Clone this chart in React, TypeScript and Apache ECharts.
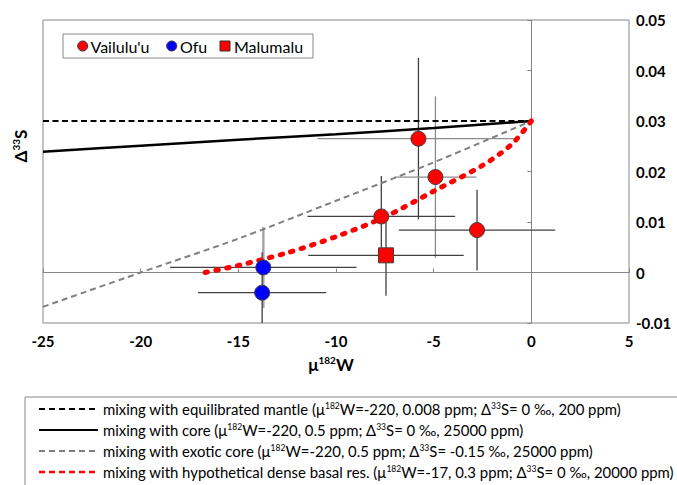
import React, { useEffect, useRef } from "react";
import * as echarts from "echarts";

// ---- data ----
const vailuluX = [-5.78, -4.91, -7.68, -2.78];
const vailuluY = [0.0265, 0.0189, 0.0111, 0.0084];
const vailuluXErr = [5.17, 2.1, 3.78, 4.0];
const vailuluYErr = [0.016, 0.016, 0.008, 0.008];

const ofuX = [-13.72, -13.78];
const ofuY = [0.001, -0.004];
const ofuXErr = [4.77, 3.28];
const ofuYErr = [0.008, 0.008];

const malumaluX = [-7.44];
const malumaluY = [0.0034];
const malumaluXErr = [3.98];
const malumaluYErr = [0.008];

const mantleX = [-25, 0];
const mantleY = [0.03, 0.03];
const coreX = [-25, -20, -15, -10, -5, 0];
const coreY = [0.0239, 0.0251, 0.0263, 0.0274, 0.0286, 0.03];
const exoticX = [-25, -20, -15, -10, -5, 0];
const exoticY = [-0.0068, 0, 0.0067, 0.0142, 0.0218, 0.03];
const basalX = [-16.7, -15, -12.5, -10, -7.5, -5, -2.5, -1, 0];
const basalY = [0, 0.0014, 0.0039, 0.0071, 0.011, 0.0161, 0.0212, 0.0254, 0.03];

const xMin = -25, xMax = 5, xStep = 5;
const yMin = -0.01, yMax = 0.05, yStep = 0.01;

const legendTop = ["Vailulu'u", "Ofu", "Malumalu"];
const legendBottom = [
  "mixing with equilibrated mantle (μ{s|182}W=-220, 0.008 ppm; Δ{s|33}S= 0 ‰, 200 ppm)",
  "mixing with core (μ{s|182}W=-220, 0.5 ppm; Δ{s|33}S= 0 ‰, 25000 ppm)",
  "mixing with exotic core (μ{s|182}W=-220, 0.5 ppm; Δ{s|33}S= -0.15 ‰, 25000 ppm)",
  "mixing with hypothetical dense basal res. (μ{s|182}W=-17, 0.3 ppm; Δ{s|33}S= 0 ‰, 20000 ppm)",
];

// ---- styles ----
const FONT = "Lato, 'Noto Sans', sans-serif";
const vailuluBarColors = [
  ["#8c8c8c", "#404040"],
  ["#8c8c8c", "#8c8c8c"],
  ["#404040", "#404040"],
  ["#404040", "#404040"],
];
const ofuBarColors = [
  ["#404040", "#a6a6a6"],
  ["#404040", "#404040"],
];
const malumaluBarColors = [["#404040", "#404040"]];

const zip = (...arrs: number[][]) => arrs[0].map((_, i) => arrs.map((a) => a[i]));

function errorSeries(data: number[][], colors: string[][]) {
  return {
    type: "custom",
    z: 1,
    clip: true,
    silent: true,
    data,
    renderItem: (params: any, api: any) => {
      const x = api.value(0), y = api.value(1), ex = api.value(2), ey = api.value(3);
      const l = api.coord([x - ex, y]);
      const r = api.coord([x + ex, y]);
      const t = api.coord([x, y + ey]);
      const b = api.coord([x, y - ey]);
      const c = colors[params.dataIndex];
      const vw = c[1] === "#a6a6a6" ? 2.5 : 1.3;
      return {
        type: "group",
        children: [
          { type: "line", shape: { x1: l[0], y1: l[1], x2: r[0], y2: r[1] }, style: { stroke: c[0], lineWidth: 1.3 } },
          { type: "line", shape: { x1: t[0], y1: t[1], x2: b[0], y2: b[1] }, style: { stroke: c[1], lineWidth: vw } },
        ],
      };
    },
  };
}

const supRich = (size: number, weight: string) => ({
  s: { fontSize: size, fontFamily: FONT, fontWeight: weight, fill: "#000", padding: [0, 0, Math.round(size * 0.8), 0] },
});

export default function App() {
  const ref = useRef<HTMLDivElement>(null);
  useEffect(() => {
    if (!ref.current) return;
    const chart = echarts.init(ref.current, null, { renderer: "svg" });
    const axisLabelFont = { fontFamily: FONT, fontWeight: "bold", fontSize: 15, color: "#000" };
    const gridLeft = 43, gridTop = 20, gridW = 586, gridH = 303;

    const bottomRows = [409, 430, 451, 472];
    const sampleStyles = [
      { stroke: "#000", lineWidth: 2, lineDash: [6, 4] },
      { stroke: "#000", lineWidth: 2 },
      { stroke: "#808080", lineWidth: 2, lineDash: [6, 4] },
      { stroke: "#ff0000", lineWidth: 2.5, lineDash: [6, 4] },
    ];

    const graphics: any[] = [
      {
        type: "text", x: 20, y: 146, rotation: Math.PI / 2, z: 10,
        style: {
          text: "Δ{s|33}S", align: "center", verticalAlign: "middle",
          fontFamily: FONT, fontWeight: "bold", fontSize: 17, fill: "#000", rich: supRich(10, "bold"),
        },
      },
      {
        type: "text", x: 331, y: 364, z: 10,
        style: {
          text: "μ{s|182}W", align: "center", verticalAlign: "middle",
          fontFamily: FONT, fontWeight: "bold", fontSize: 17, fill: "#000", rich: supRich(10, "bold"),
        },
      },
      { type: "rect", z: 10, shape: { x: 63, y: 34, width: 250, height: 24 }, style: { fill: "#fff", stroke: "#888", lineWidth: 1 } },
      { type: "circle", z: 11, shape: { cx: 82.7, cy: 46, r: 5 }, style: { fill: "#ff0000", stroke: "#333", lineWidth: 1 } },
      { type: "text", z: 11, x: 90.5, y: 46, style: { text: legendTop[0], fontFamily: FONT, fontSize: 16, fill: "#000", verticalAlign: "middle" } },
      { type: "circle", z: 11, shape: { cx: 171.7, cy: 46, r: 5 }, style: { fill: "#0000ff", stroke: "#333", lineWidth: 1 } },
      { type: "text", z: 11, x: 180, y: 46, style: { text: legendTop[1], fontFamily: FONT, fontSize: 16, fill: "#000", verticalAlign: "middle" } },
      { type: "rect", z: 11, shape: { x: 220, y: 41, width: 10, height: 10 }, style: { fill: "#ff0000", stroke: "#333", lineWidth: 1 } },
      { type: "text", z: 11, x: 234, y: 46, style: { text: legendTop[2], fontFamily: FONT, fontSize: 16, fill: "#000", verticalAlign: "middle" } },
      { type: "rect", z: 10, shape: { x: 25, y: 397, width: 690, height: 120 }, style: { fill: "#fff", stroke: "#888", lineWidth: 1 } },
    ];
    legendBottom.forEach((t, i) => {
      graphics.push({
        type: "line", z: 11,
        shape: { x1: 39, y1: bottomRows[i], x2: 98, y2: bottomRows[i] },
        style: sampleStyles[i],
      });
      graphics.push({
        type: "text", z: 11, x: 103, y: bottomRows[i],
        style: {
          text: t, fontFamily: FONT, fontSize: 14.9, fill: "#000", verticalAlign: "middle",
          rich: supRich(8.5, "normal"),
        },
      });
    });

    const option: any = {
      animation: false,
      backgroundColor: "#fff",
      grid: { left: gridLeft, top: gridTop, width: gridW, height: gridH, show: true, borderColor: "#868686", borderWidth: 1, backgroundColor: "transparent" },
      xAxis: [
        {
          type: "value", min: xMin, max: xMax, interval: xStep, position: "bottom",
          axisLine: { show: false, onZero: false }, axisTick: { show: false }, splitLine: { show: false },
          axisLabel: { ...axisLabelFont, margin: 10 },
        },
        {
          type: "value", min: xMin, max: xMax, interval: xStep,
          axisLine: { show: true, onZero: true, onZeroAxisIndex: 0, lineStyle: { color: "#868686", width: 1 } },
          axisTick: { show: true, inside: false, length: 4, lineStyle: { color: "#868686" } },
          axisLabel: { show: false }, splitLine: { show: false },
        },
      ],
      yAxis: [
        {
          type: "value", min: yMin, max: yMax, interval: yStep, position: "right",
          axisLine: { show: false, onZero: false }, axisTick: { show: false }, splitLine: { show: false },
          axisLabel: {
            ...axisLabelFont, margin: 7, align: "left",
            formatter: (v: number) => (Math.abs(v) < 1e-9 ? "0" : v.toFixed(2)),
          },
        },
        {
          type: "value", min: yMin, max: yMax, interval: yStep, position: "left",
          axisLine: { show: true, onZero: true, onZeroAxisIndex: 0, lineStyle: { color: "#868686", width: 1 } },
          axisTick: { show: true, inside: false, length: 4, lineStyle: { color: "#868686" } },
          axisLabel: { show: false }, splitLine: { show: false },
        },
      ],
      series: [
        errorSeries(zip(vailuluX, vailuluY, vailuluXErr, vailuluYErr), vailuluBarColors),
        errorSeries(zip(ofuX, ofuY, ofuXErr, ofuYErr), ofuBarColors),
        errorSeries(zip(malumaluX, malumaluY, malumaluXErr, malumaluYErr), malumaluBarColors),
        {
          type: "line", z: 2, showSymbol: false, silent: true, data: zip(mantleX, mantleY),
          lineStyle: { color: "#000", width: 2, type: [6, 3.5] },
        },
        {
          type: "line", z: 2, showSymbol: false, silent: true, smooth: 0.3, data: zip(coreX, coreY),
          lineStyle: { color: "#000", width: 2.5 },
        },
        {
          type: "line", z: 2, showSymbol: false, silent: true, smooth: 0.3, data: zip(exoticX, exoticY),
          lineStyle: { color: "#808080", width: 2, type: [6, 4] },
        },
        {
          type: "line", z: 2, showSymbol: false, silent: true, smooth: 0.3, data: zip(basalX, basalY),
          lineStyle: { color: "#ff0000", width: 5, type: [2.5, 8.5], cap: "round" },
        },
        {
          type: "scatter", z: 3, name: legendTop[0], data: zip(vailuluX, vailuluY), symbol: "circle", symbolSize: 15,
          itemStyle: { color: "#ff0000", borderColor: "#404040", borderWidth: 1, opacity: 1 },
        },
        {
          type: "scatter", z: 3, name: legendTop[1], data: zip(ofuX, ofuY), symbol: "circle", symbolSize: 15,
          itemStyle: { color: "#0000ff", borderColor: "#404040", borderWidth: 1, opacity: 1 },
        },
        {
          type: "scatter", z: 3, name: legendTop[2], data: zip(malumaluX, malumaluY), symbol: "rect", symbolSize: 15,
          itemStyle: { color: "#ff0000", borderColor: "#404040", borderWidth: 1, opacity: 1 },
        },
      ],
      graphic: graphics,
    };
    chart.setOption(option);
    return () => chart.dispose();
  }, []);
  return <div ref={ref} style={{ position: "absolute", left: 0, top: 0, width: 677, height: 485 }} />;
}
